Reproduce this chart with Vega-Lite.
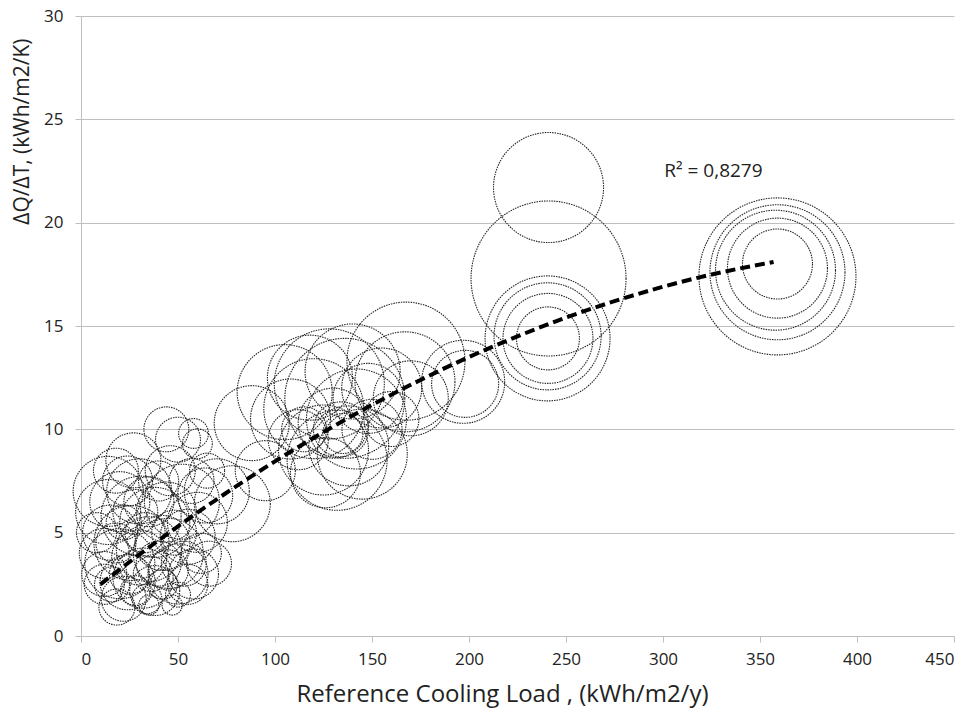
{
  "$schema": "https://vega.github.io/schema/vega-lite/v6.json",
  "width": 873,
  "height": 620,
  "autosize": {"type": "none"},
  "padding": {"left": 81, "top": 16, "right": 20, "bottom": 89},
  "background": "white",
  "config": {
    "view": {"stroke": null},
    "font": "Open Sans",
    "axis": {"labelFont": "Open Sans", "titleFont": "Open Sans", "labelColor": "#222", "titleColor": "#222", "titleFontWeight": "normal"}
  },
  "datasets": {
    "bubbles": [
      {"x": 12, "y": 4.0, "s": 10.4}, {"x": 14, "y": 6.0, "s": 17.6}, {"x": 12, "y": 3.0, "s": 8.4},
      {"x": 14, "y": 7.0, "s": 20.4}, {"x": 15, "y": 5.0, "s": 12.6}, {"x": 16, "y": 2.5, "s": 5.1},
      {"x": 18.5, "y": 1.4, "s": 5.4}, {"x": 18, "y": 4.5, "s": 6.7}, {"x": 20, "y": 6.5, "s": 15.0},
      {"x": 20, "y": 3.5, "s": 20.4}, {"x": 22, "y": 1.8, "s": 8.4}, {"x": 22, "y": 5.5, "s": 5.1},
      {"x": 24, "y": 7.5, "s": 10.4}, {"x": 25, "y": 3.0, "s": 6.7}, {"x": 26, "y": 4.5, "s": 23.4},
      {"x": 28, "y": 2.2, "s": 3.7}, {"x": 28, "y": 6.0, "s": 8.4}, {"x": 30, "y": 3.8, "s": 12.6},
      {"x": 30, "y": 7.0, "s": 17.6}, {"x": 32, "y": 2.8, "s": 15.0}, {"x": 33, "y": 5.0, "s": 6.7},
      {"x": 34, "y": 1.8, "s": 3.7}, {"x": 35, "y": 4.2, "s": 17.6}, {"x": 35, "y": 6.5, "s": 10.4},
      {"x": 36, "y": 3.0, "s": 5.1}, {"x": 38, "y": 2.2, "s": 10.4}, {"x": 38, "y": 5.5, "s": 20.4},
      {"x": 40, "y": 3.5, "s": 8.4}, {"x": 40, "y": 7.5, "s": 6.7}, {"x": 42, "y": 4.5, "s": 12.6},
      {"x": 42, "y": 2.5, "s": 3.7}, {"x": 44, "y": 6.0, "s": 15.0}, {"x": 45, "y": 3.2, "s": 6.7},
      {"x": 46, "y": 8.0, "s": 10.4}, {"x": 48, "y": 5.0, "s": 8.4}, {"x": 50, "y": 2.0, "s": 2.6},
      {"x": 50, "y": 3.0, "s": 15.0}, {"x": 50, "y": 9.5, "s": 8.4}, {"x": 52, "y": 6.5, "s": 23.4},
      {"x": 53, "y": 3.5, "s": 8.4}, {"x": 55, "y": 4.8, "s": 12.6}, {"x": 55, "y": 2.5, "s": 6.7},
      {"x": 57, "y": 7.5, "s": 8.4}, {"x": 58, "y": 3.0, "s": 10.4}, {"x": 60, "y": 9.3, "s": 3.7},
      {"x": 60, "y": 5.5, "s": 15.0}, {"x": 62, "y": 4.0, "s": 6.7}, {"x": 64, "y": 6.8, "s": 12.6},
      {"x": 65, "y": 8.0, "s": 5.1}, {"x": 66, "y": 3.5, "s": 8.4}, {"x": 70, "y": 7.0, "s": 17.6},
      {"x": 78, "y": 6.4, "s": 24.0}, {"x": 12, "y": 2.5, "s": 6.7}, {"x": 8, "y": 5.0, "s": 6.7},
      {"x": 27, "y": 8.5, "s": 12.6}, {"x": 18, "y": 8.0, "s": 8.4}, {"x": 44, "y": 10.0, "s": 8.4},
      {"x": 58, "y": 9.8, "s": 3.7}, {"x": 35, "y": 1.5, "s": 1.7}, {"x": 47, "y": 1.5, "s": 1.7},
      {"x": 24, "y": 2.6, "s": 12.6}, {"x": 31, "y": 5.8, "s": 26.6}, {"x": 45, "y": 4.0, "s": 20.4},
      {"x": 88, "y": 10.3, "s": 23.4}, {"x": 95, "y": 8.0, "s": 15.0}, {"x": 105, "y": 11.8, "s": 37.6},
      {"x": 108, "y": 10.5, "s": 26.6}, {"x": 112, "y": 9.5, "s": 15.0}, {"x": 118, "y": 12.5, "s": 30.1},
      {"x": 120, "y": 11.0, "s": 41.6}, {"x": 125, "y": 9.0, "s": 33.7}, {"x": 128, "y": 12.2, "s": 50.4},
      {"x": 130, "y": 10.3, "s": 20.4}, {"x": 132, "y": 8.5, "s": 41.6}, {"x": 134, "y": 10.0, "s": 12.6},
      {"x": 136, "y": 11.5, "s": 59.9}, {"x": 138, "y": 9.2, "s": 26.6}, {"x": 140, "y": 12.8, "s": 37.6},
      {"x": 142, "y": 10.5, "s": 41.6}, {"x": 145, "y": 8.8, "s": 33.7}, {"x": 148, "y": 11.5, "s": 20.4},
      {"x": 150, "y": 10.0, "s": 15.0}, {"x": 155, "y": 12.0, "s": 26.6}, {"x": 167.5, "y": 13.3, "s": 58.0},
      {"x": 167, "y": 12.3, "s": 41.6}, {"x": 170, "y": 11.5, "s": 23.4}, {"x": 160, "y": 10.5, "s": 12.6},
      {"x": 115, "y": 10.0, "s": 8.4}, {"x": 126, "y": 7.9, "s": 20.4}, {"x": 135, "y": 9.8, "s": 6.7},
      {"x": 197, "y": 12.3, "s": 28.7}, {"x": 198, "y": 12.2, "s": 18.7},
      {"x": 241, "y": 21.7, "s": 50.4}, {"x": 241, "y": 17.3, "s": 100},
      {"x": 240.7, "y": 14.4, "s": 16.5}, {"x": 240.7, "y": 14.4, "s": 33.7},
      {"x": 240.5, "y": 14.5, "s": 47.7}, {"x": 240.5, "y": 14.4, "s": 65.0},
      {"x": 359, "y": 18.0, "s": 20.4}, {"x": 359, "y": 17.8, "s": 41.6}, {"x": 358, "y": 17.7, "s": 59.9},
      {"x": 359, "y": 17.6, "s": 75.9}, {"x": 359, "y": 17.4, "s": 102.6}
    ],
    "trend": [
      {"x": 10, "y": 2.5}, {"x": 25, "y": 3.58}, {"x": 50, "y": 5.31}, {"x": 75, "y": 6.93},
      {"x": 100, "y": 8.45}, {"x": 125, "y": 9.87}, {"x": 150, "y": 11.18}, {"x": 175, "y": 12.39},
      {"x": 200, "y": 13.5}, {"x": 225, "y": 14.5}, {"x": 250, "y": 15.41}, {"x": 275, "y": 16.2},
      {"x": 300, "y": 16.9}, {"x": 325, "y": 17.49}, {"x": 357, "y": 18.1}
    ],
    "label": [{"x": 326, "y": 22.5, "t": "R² = 0,8279"}]
  },
  "layer": [
    {
      "data": {"name": "bubbles"},
      "mark": {"type": "point", "shape": "circle", "filled": false, "opacity": 1, "stroke": "#262626", "strokeWidth": 1.1, "strokeDash": [1.5, 1]},
      "encoding": {
        "x": {
          "field": "x", "type": "quantitative",
          "scale": {"domain": [0, 450], "nice": false},
          "axis": {
            "values": [0, 50, 100, 150, 200, 250, 300, 350, 400, 450],
            "title": "Reference Cooling Load , (kWh/m2/y)",
            "titleFontSize": 24, "titleY": 65, "titleBaseline": "alphabetic",
            "titleX": 421, "titleAlign": "center",
            "labelFontSize": 17, "labelPadding": 9,
            "grid": false, "domainColor": "#bfbfbf", "tickColor": "#bfbfbf", "tickSize": 6
          }
        },
        "y": {
          "field": "y", "type": "quantitative",
          "scale": {"domain": [0, 30], "nice": false},
          "axis": {
            "values": [0, 5, 10, 15, 20, 25, 30],
            "title": "ΔQ/ΔT, (kWh/m2/K)",
            "titleFontSize": 21, "titleAngle": -90, "titleAlign": "right", "titleBaseline": "middle",
            "titleX": -59, "titleY": 22,
            "labelFontSize": 17, "labelPadding": 12,
            "grid": true, "gridColor": "#bfbfbf", "domainColor": "#bfbfbf", "tickColor": "#bfbfbf", "tickSize": 6
          }
        },
        "size": {"field": "s", "type": "quantitative", "scale": {"type": "linear", "domain": [0, 100], "range": [0, 24025], "zero": true}, "legend": null}
      }
    },
    {
      "data": {"name": "trend"},
      "mark": {"type": "line", "color": "black", "strokeWidth": 4, "strokeDash": [10, 5], "interpolate": "monotone", "strokeCap": "butt"},
      "encoding": {
        "x": {"field": "x", "type": "quantitative"},
        "y": {"field": "y", "type": "quantitative"}
      }
    },
    {
      "data": {"name": "label"},
      "mark": {"type": "text", "font": "Open Sans", "fontSize": 19, "color": "#222", "align": "center", "baseline": "middle"},
      "encoding": {
        "x": {"field": "x", "type": "quantitative"},
        "y": {"field": "y", "type": "quantitative"},
        "text": {"field": "t"}
      }
    }
  ]
}
